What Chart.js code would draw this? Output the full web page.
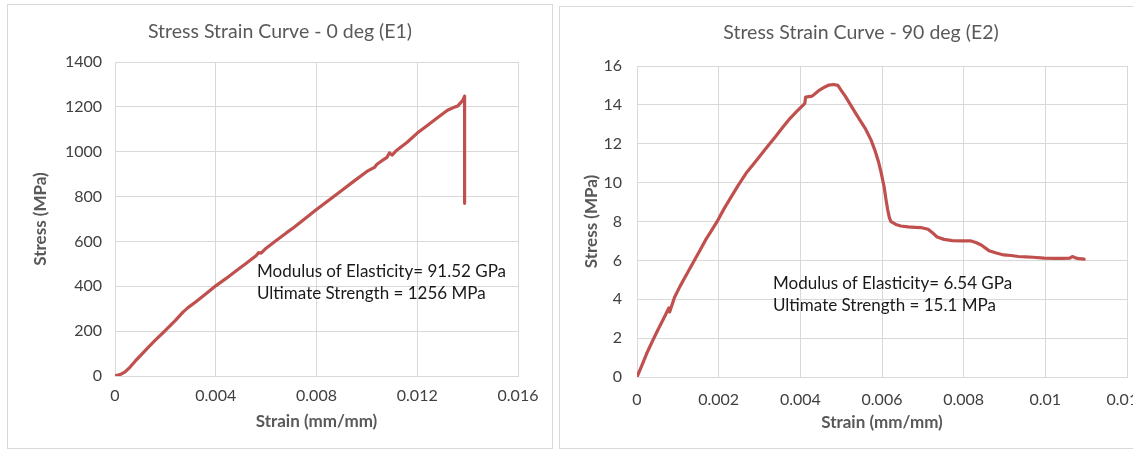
<!DOCTYPE html>
<html>
<head>
<meta charset="utf-8">
<script src="https://cdn.jsdelivr.net/npm/chart.js@4"></script>
<style>
  html, body { margin: 0; padding: 0; background: #fff; overflow: hidden; width: 1133px; height: 451px; }
  .frame { position: absolute; border: 1px solid #d9d9d9; box-sizing: border-box; pointer-events: none; }
  canvas { position: absolute; }
</style>
</head>
<body>
<canvas id="c0" width="546" height="445" style="left:7px;top:4px"></canvas>
<div class="frame" style="left:7px;top:4px;width:546px;height:445px"></div>
<canvas id="c90" width="604" height="443" style="left:559px;top:6px"></canvas>
<div class="frame" style="left:559px;top:6px;width:604px;height:443px"></div>
<script>
// ---- Data: 0 deg (E1) ----
const strain0 = [0, 0.0002, 0.0004, 0.0006, 0.0008, 0.0010, 0.0013, 0.0016, 0.0020, 0.0024, 0.0027, 0.0029,
  0.0032, 0.0036, 0.0040, 0.0044, 0.0048, 0.0052, 0.0056, 0.0057, 0.0058, 0.0060, 0.0064, 0.0068, 0.0071,
  0.0075, 0.0080, 0.0085, 0.0090, 0.0095, 0.0100, 0.0103, 0.0104, 0.0106, 0.0108, 0.0109, 0.0110, 0.0112,
  0.0116, 0.0120, 0.0124, 0.0128, 0.0132, 0.0135, 0.0136, 0.0138, 0.01388, 0.01388];
const stress0 = [0, 6, 18, 40, 66, 90, 125, 160, 203, 248, 285, 305,
  330, 366, 402, 434, 468, 502, 536, 550, 548, 570, 604, 638, 662,
  698, 742, 785, 827, 870, 912, 930, 944, 960, 975, 995, 985, 1008,
  1042, 1083, 1117, 1151, 1185, 1200, 1203, 1228, 1248, 770];
const xTicks0 = [0, 0.004, 0.008, 0.012, 0.016];
const yTicks0 = [0, 200, 400, 600, 800, 1000, 1200, 1400];

// ---- Data: 90 deg (E2) ----
const strain90 = [0, 0.00012, 0.00024, 0.00038, 0.00051, 0.00065, 0.00078, 0.00080, 0.00092, 0.00105, 0.00122,
  0.00141, 0.00155, 0.00168, 0.00182, 0.00196, 0.00213, 0.00231, 0.00249, 0.00267, 0.00285, 0.00303, 0.00321,
  0.00339, 0.00357, 0.00375, 0.00393, 0.00405, 0.00411, 0.00413, 0.00429, 0.00447, 0.00460, 0.00470, 0.00481,
  0.00492, 0.00500, 0.00510, 0.00520, 0.00533, 0.00546, 0.00560, 0.00573, 0.00582, 0.00591, 0.00598, 0.00605,
  0.00610, 0.00614, 0.00618, 0.00622, 0.00634, 0.00646, 0.00664, 0.00681, 0.00697, 0.00713, 0.00722, 0.00735,
  0.00752, 0.00772, 0.00794, 0.00816, 0.00830, 0.00843, 0.00862, 0.00880, 0.00898, 0.00916, 0.00934, 0.00952,
  0.00970, 0.00997, 0.01024, 0.01042, 0.01060, 0.01066, 0.01078, 0.01095];
const stress90 = [0, 0.6, 1.22, 1.85, 2.42, 3.0, 3.55, 3.35, 4.1, 4.65, 5.3,
  6.02, 6.55, 7.05, 7.52, 7.99, 8.65, 9.28, 9.9, 10.48, 10.95, 11.42, 11.9,
  12.36, 12.85, 13.31, 13.7, 13.95, 14.08, 14.4, 14.45, 14.76, 14.92, 15.02, 15.05,
  15.0, 14.75, 14.45, 14.1, 13.65, 13.22, 12.75, 12.2, 11.7, 11.1, 10.5, 9.8,
  9.1, 8.6, 8.2, 7.99, 7.85, 7.77, 7.72, 7.7, 7.68, 7.6, 7.45, 7.2,
  7.08, 7.02, 7.0, 7.01, 6.92, 6.79, 6.5, 6.38, 6.28, 6.25, 6.2, 6.18,
  6.16, 6.12, 6.1, 6.1, 6.12, 6.2, 6.1, 6.06];
const xTicks90 = [0, 0.002, 0.004, 0.006, 0.008, 0.01, 0.012];
const yTicks90 = [0, 2, 4, 6, 8, 10, 12, 14, 16];

const titles = ['Stress Strain Curve - 0 deg (E1)', 'Stress Strain Curve - 90 deg (E2)'];
const notes0 = ['Modulus of Elasticity= 91.52 GPa', 'Ultimate Strength = 1256 MPa'];
const notes90 = ['Modulus of Elasticity= 6.54 GPa', 'Ultimate Strength = 15.1 MPa'];
const xTitle = 'Strain (mm/mm)';
const yTitle = 'Stress (MPa)';

Chart.defaults.font.family = 'Lato, "Liberation Sans", sans-serif';
const GREY = '#595959';
const TICK = '#404040';
const GRID = '#d9d9d9';
const LINE = '#c0504d';

const textPlugin = {
  id: 'texts',
  afterDraw(chart, args, opts) {
    const ctx = chart.ctx;
    ctx.save();
    (opts.items || []).forEach(it => {
      ctx.font = it.font;
      ctx.fillStyle = it.color;
      ctx.textAlign = it.align || 'left';
      ctx.textBaseline = 'middle';
      ctx.fillText(it.text, it.x, it.y);
    });
    ctx.restore();
  }
};

function makeChart(id, xs, ys, xt, yt, cfg) {
  const pts = xs.map((x, i) => ({x: x, y: ys[i]}));
  return new Chart(document.getElementById(id), {
    type: 'scatter',
    data: { datasets: [{ data: pts, showLine: true, borderColor: LINE, backgroundColor: LINE,
      borderWidth: 3.2, pointRadius: 0, tension: 0, borderJoinStyle: 'round', borderCapStyle: 'round' }] },
    plugins: [textPlugin],
    options: {
      responsive: false, animation: false, devicePixelRatio: 1,
      layout: { padding: cfg.padding },
      plugins: {
        legend: { display: false }, tooltip: { enabled: false }, title: { display: false },
        texts: { items: cfg.items }
      },
      scales: {
        x: {
          type: 'linear', min: xt[0], max: xt[xt.length - 1],
          afterBuildTicks: s => { s.ticks = xt.map(v => ({value: v})); },
          afterFit: s => { s.height = cfg.xH; },
          ticks: { color: TICK, font: { size: 16 }, padding: cfg.xTickPad, maxRotation: 0, autoSkip: false,
            callback: v => String(v) },
          grid: { color: GRID, drawTicks: false, lineWidth: 1 },
          border: { color: GRID, width: 1 },
          title: { display: true, text: xTitle, color: GREY, font: { size: 17, weight: 'bold' },
            padding: { top: 0, bottom: cfg.xTitlePad } }
        },
        y: {
          type: 'linear', min: yt[0], max: yt[yt.length - 1],
          afterBuildTicks: s => { s.ticks = yt.map(v => ({value: v})); },
          afterFit: s => { s.width = cfg.yW; },
          ticks: { color: TICK, font: { size: 16 }, padding: cfg.yTickPad, autoSkip: false,
            callback: v => String(v) },
          grid: { color: GRID, drawTicks: false, lineWidth: 1 },
          border: { color: GRID, width: 1 },
          title: { display: true, text: yTitle, color: GREY, font: { size: 17, weight: 'bold' },
            padding: { top: cfg.yTitlePad, bottom: 0 } }
        }
      }
    }
  });
}

makeChart('c0', strain0, stress0, xTicks0, yTicks0, {
  padding: { top: 58, right: 35, bottom: 0, left: 0 },
  xH: 73, yW: 108, xTickPad: 10, yTickPad: 13, xTitlePad: 17, yTitlePad: 23,
  items: [
    { text: titles[0], x: 273, y: 28, font: '19.5px Lato', color: GREY, align: 'center' },
    { text: notes0[0], x: 250, y: 268, font: '17px Lato', color: '#1a1a1a' },
    { text: notes0[1], x: 250, y: 290, font: '17px Lato', color: '#1a1a1a' }
  ]
});

makeChart('c90', strain90, stress90, xTicks90, yTicks90, {
  padding: { top: 60, right: 36, bottom: 0, left: 0 },
  xH: 72, yW: 78, xTickPad: 13, yTickPad: 15, xTitlePad: 16, yTitlePad: 22,
  items: [
    { text: titles[1], x: 302, y: 27, font: '19.5px Lato', color: GREY, align: 'center' },
    { text: notes90[0], x: 214, y: 278, font: '17px Lato', color: '#1a1a1a' },
    { text: notes90[1], x: 214, y: 300, font: '17px Lato', color: '#1a1a1a' }
  ]
});
</script>
</body>
</html>
